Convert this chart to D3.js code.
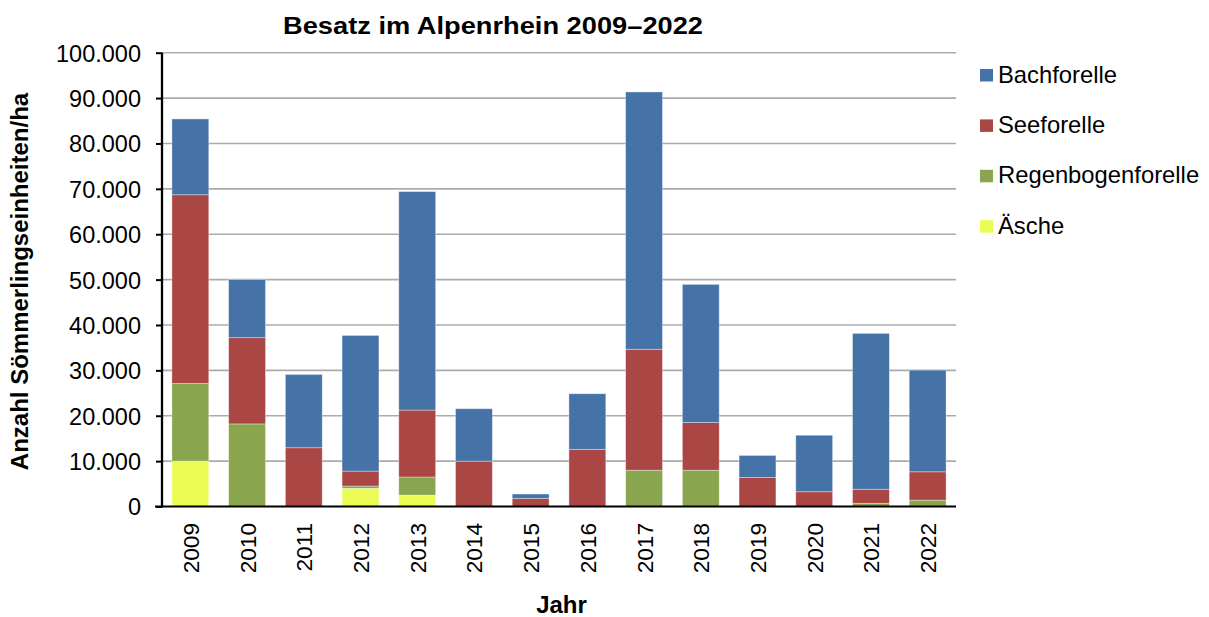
<!DOCTYPE html>
<html>
<head>
<meta charset="utf-8">
<script src="https://cdn.jsdelivr.net/npm/d3@7"></script>
<style>
  body { margin: 0; background: #fff; }
  text { font-family: Arial, "Liberation Sans", sans-serif; fill: #000; }
</style>
</head>
<body>
<div id="chart"></div>
<script>
// data
const years = ['2009', '2010', '2011', '2012', '2013', '2014', '2015', '2016', '2017', '2018', '2019', '2020', '2021', '2022'];
const aesche      = [10000,     0,     0,  4000,  2500,     0,    0,     0,     0,     0,    0,     0,     0,     0];
const regenbogen  = [17100, 18200,     0,   500,  4000,     0,    0,     0,  8000,  8000,    0,     0,   700,  1400];
const seeforelle  = [41600, 19000, 12950,  3300, 14750, 10000, 1800, 12600, 26650, 10500, 6400,  3250,  3100,  6250];
const bachforelle = [16700, 12800, 16150, 29900, 48150, 11550,  950, 12250, 56700, 30450, 4850, 12450, 34350, 22400];
const seriesNames = ['Äsche', 'Regenbogenforelle', 'Seeforelle', 'Bachforelle'];
const yTicks = [0, 10000, 20000, 30000, 40000, 50000, 60000, 70000, 80000, 90000, 100000];

const colors = {
  'Bachforelle': '#4572a7',
  'Seeforelle': '#aa4643',
  'Regenbogenforelle': '#89a54e',
  'Äsche': '#ebfc55'
};

const W = 1209, H = 617;

const table = years.map((y, i) => ({
  year: y,
  'Äsche': aesche[i],
  'Regenbogenforelle': regenbogen[i],
  'Seeforelle': seeforelle[i],
  'Bachforelle': bachforelle[i]
}));
const stacked = d3.stack().keys(seriesNames)(table);

const svg = d3.select('#chart').append('svg').attr('width', W).attr('height', H);
const g = svg.append('g');

const x = d3.scaleBand().domain(years).range([162, 956]).paddingInner(0.35).paddingOuter(0.175);
const y = d3.scaleLinear().domain([0, 100000]).range([506.5, 52.7]);
const fmt = v => d3.format(',')(v).replace(/,/g, '.');

// gridlines
g.append('g').selectAll('line').data(yTicks.slice(1)).join('line')
  .attr('x1', 162).attr('x2', 956)
  .attr('y1', d => y(d)).attr('y2', d => y(d))
  .attr('stroke', '#ababab').attr('stroke-width', 1.6);

// bars
g.append('g').selectAll('g').data(stacked).join('g')
  .attr('fill', d => colors[d.key])
  .selectAll('rect').data(d => d.filter(s => s[1] > s[0])).join('rect')
    .attr('x', d => x(d.data.year))
    .attr('width', x.bandwidth())
    .attr('y', d => y(d[1]))
    .attr('height', d => y(d[0]) - y(d[1]))
    .attr('stroke', 'rgba(255,255,255,0.45)')
    .attr('stroke-width', 0.8);

// y axis
const yAxis = g.append('g').attr('transform', 'translate(162,0)')
  .call(d3.axisLeft(y).tickValues(yTicks).tickFormat(fmt).tickSize(6).tickPadding(15));
yAxis.select('.domain').remove();
yAxis.append('line').attr('x1', 0).attr('x2', 0).attr('y1', 52.7).attr('y2', 507.5)
  .attr('stroke', '#000').attr('stroke-width', 2.3);
yAxis.selectAll('.tick line').attr('stroke', '#000').attr('stroke-width', 2);
yAxis.selectAll('.tick text').attr('font-size', 23.5).attr('font-family', 'Arial, "Liberation Sans", sans-serif')
  .attr('fill', '#000').attr('dy', '0.36em');

// x axis line
g.append('line').attr('x1', 155).attr('x2', 956).attr('y1', 506.5).attr('y2', 506.5)
  .attr('stroke', '#000').attr('stroke-width', 2);

// year labels
g.append('g').selectAll('text').data(years).join('text')
  .attr('transform', d => `translate(${x(d) + x.bandwidth() / 2 + 8.5},523) rotate(-90)`)
  .attr('text-anchor', 'end')
  .attr('font-size', 22.6)
  .text(d => d);

// titles
g.append('text').attr('x', 493).attr('y', 33.5).attr('text-anchor', 'middle')
  .attr('font-size', 24).attr('font-weight', 'bold')
  .attr('textLength', 420).attr('lengthAdjust', 'spacingAndGlyphs')
  .text('Besatz im Alpenrhein 2009–2022');
g.append('text').attr('transform', 'translate(27.5,281.5) rotate(-90)').attr('text-anchor', 'middle')
  .attr('font-size', 24).attr('font-weight', 'bold').text('Anzahl Sömmerlingseinheiten/ha');
g.append('text').attr('x', 561.5).attr('y', 613).attr('text-anchor', 'middle')
  .attr('font-size', 24).attr('font-weight', 'bold').text('Jahr');

// legend
const legendOrder = ['Bachforelle', 'Seeforelle', 'Regenbogenforelle', 'Äsche'];
const leg = g.append('g').selectAll('g').data(legendOrder).join('g')
  .attr('transform', (d, i) => `translate(0,${82.5 + i * 50.4})`);
leg.append('rect').attr('x', 980).attr('y', -13.5).attr('width', 13).attr('height', 12.5)
  .attr('fill', d => colors[d]);
leg.append('text').attr('x', 998).attr('y', 0).attr('font-size', 23.8).text(d => d);
</script>
</body>
</html>
